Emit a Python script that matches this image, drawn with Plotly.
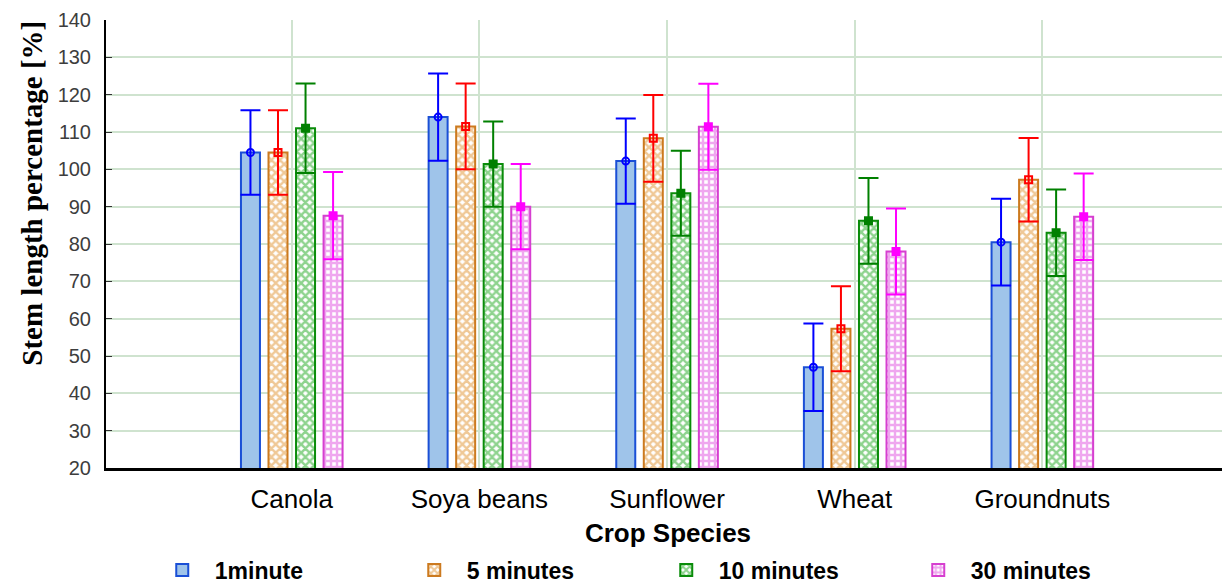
import plotly.graph_objects as go

categories = ["Canola", "Soya beans", "Sunflower", "Wheat", "Groundnuts"]
series_names = ["1minute", "5 minutes", "10 minutes", "30 minutes"]

v_1min = [104.5, 114.0, 102.2, 47.0, 80.5]
v_5min = [104.5, 111.5, 108.3, 57.3, 97.2]
v_10min = [111.0, 101.4, 93.6, 86.2, 83.0]
v_30min = [87.6, 90.0, 111.4, 78.0, 87.3]

e_1min = [11.3, 11.7, 11.4, 11.7, 11.6]
e_5min = [11.3, 11.5, 11.6, 11.4, 11.2]
e_10min = [12.0, 11.4, 11.4, 11.5, 11.6]
e_30min = [11.7, 11.4, 11.5, 11.5, 11.6]

values = [v_1min, v_5min, v_10min, v_30min]
errors = [e_1min, e_5min, e_10min, e_30min]

line_colors = ["#1a4fd6", "#cc7a1f", "#0a8c0a", "#d63fd0"]
err_colors = ["#0000ff", "#ff0000", "#008000", "#ff00ff"]
fill_colors = ["#9fc4ea", "white", "white", "white"]
patterns = ["", "x", "x", "+"]
pat_fg = ["#9fc4ea", "#e0912e", "#1ea81e", "#e050e0"]
marker_symbols = ["circle-open", "square-open", "square", "square"]

fig = go.Figure()

for i, name in enumerate(series_names):
    fig.add_trace(go.Bar(
        name=name,
        x=categories,
        y=values[i],
        offsetgroup=str(i),
        marker=dict(
            color=fill_colors[i],
            line=dict(color=line_colors[i], width=2),
            pattern=dict(shape=patterns[i], fgcolor=pat_fg[i], bgcolor="white",
                         size=6, solidity=0.65) if patterns[i] else None,
        ),
        error_y=dict(type="data", array=errors[i], color=err_colors[i],
                     thickness=2, width=10),
    ))

for i, name in enumerate(series_names):
    fig.add_trace(go.Scatter(
        x=categories,
        y=values[i],
        mode="markers",
        offsetgroup=str(i),
        marker=dict(symbol=marker_symbols[i], color=err_colors[i], size=7,
                    line=dict(color=err_colors[i], width=2)),
        showlegend=False,
        hoverinfo="skip",
    ))

fig.update_layout(
    width=1222, height=575,
    margin=dict(l=98, r=0, t=12, b=115),
    plot_bgcolor="white",
    paper_bgcolor="white",
    barmode="group",
    bargap=0.413,
    bargroupgap=0.31,
    scattermode="group",
    scattergap=0.413,
    font=dict(family="Liberation Sans, Arial", color="black"),
    legend=dict(
        orientation="h",
        xref="container", x=0.116, xanchor="left",
        yref="container", y=0.0226, yanchor="middle",
        font=dict(size=23, family="Liberation Sans, Arial", weight="bold"),
        entrywidth=182,
        itemwidth=55,
    ),
    annotations=[dict(
        text="Stem length percentage [%]",
        xref="paper", yref="paper", x=-0.066, y=0.614,
        xanchor="center", yanchor="middle", textangle=-90, showarrow=False,
        font=dict(size=29, family="Liberation Serif, Times New Roman",
                  weight="bold", color="black"),
    )],
)

fig.update_xaxes(
    type="category",
    range=[-0.99, 5.0],
    automargin=False,
    showgrid=True, gridcolor="#cfe3cf", gridwidth=2,
    showline=True, linecolor="black", linewidth=3,
    ticks="", tickfont=dict(size=26, color="black"),
    ticklabelstandoff=6,
    title=dict(text="Crop Species", font=dict(size=26, weight="bold"), standoff=15),
)

fig.update_yaxes(
    range=[20, 140],
    dtick=10,
    automargin=False,
    showgrid=True, gridcolor="#cfe3cf", gridwidth=2,
    showline=True, linecolor="black", linewidth=2,
    ticks="inside", ticklen=6, tickcolor="#333333",
    tickfont=dict(size=20, color="#3d3d3d"),
    ticklabelstandoff=9,
    ticklabeloverflow="allow",
    zeroline=False,
)

fig.write_html("out.html")
